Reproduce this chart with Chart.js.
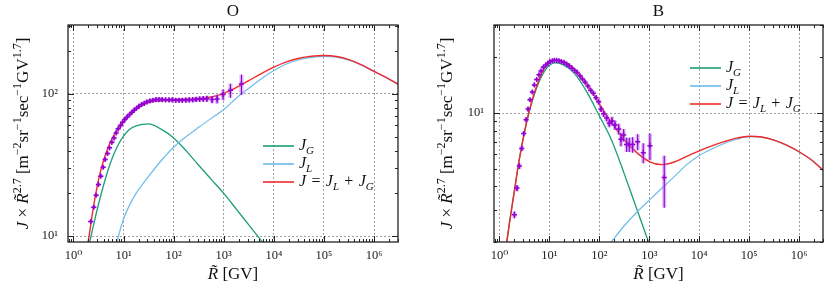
<!DOCTYPE html>
<html>
<head>
<meta charset="utf-8">
<script src="https://cdn.jsdelivr.net/npm/chart.js@4.4.0/dist/chart.umd.min.js"></script>
<style>
  html, body { margin: 0; padding: 0; background: #fff; }
  #wrap { width: 830px; height: 290px; position: relative; }
  .panel { position: absolute; top: 0; width: 415px; height: 290px; }
</style>
</head>
<body>
<div id="wrap">
  <div class="panel" style="left:0"><canvas id="chart-o" width="415" height="290"></canvas></div>
  <div class="panel" style="left:415px"><canvas id="chart-b" width="415" height="290"></canvas></div>
</div>
<script>
// ---- ticks ----
const xTickValues = [1, 10, 100, 1e3, 1e4, 1e5, 1e6]
const xTickLabels = ['10⁰', '10¹', '10²', '10³', '10⁴', '10⁵', '10⁶']
const oYTickValues = [10, 100]
const oYTickLabels = ['10¹', '10²']
const bYTickValues = [10]
const bYTickLabels = ['10¹']

// ---- O : measured points ----
const oDataR = [2.22, 2.55, 2.84, 3.16, 3.52, 3.92, 4.3, 4.79, 5.25, 5.85,
  6.5, 7.13, 7.8, 8.7, 9.55, 10.6, 11.8, 13.2, 14.7, 16.3,
  18.2, 20.3, 22.9, 25.9, 29.3, 33.6, 38.6, 44.4, 51, 59,
  69, 81, 94, 110, 128, 149, 175, 205, 240, 280,
  330, 390, 460, 585, 736, 970, 1360, 2256]
const oDataJ = [12.7, 16.0, 19.4, 23.1, 26.4, 30.5, 34.6, 38.1, 41.8, 45.7,
  49, 53.2, 56.8, 59.9, 63.1, 66, 68.9, 71.6, 74.3, 76.8,
  79.3, 81.8, 84.1, 85.9, 87.9, 89.3, 90.2, 91.2, 91.2, 91.2,
  90.8, 90.8, 90.8, 90.2, 90.2, 90.2, 90.5, 90.8, 91, 91.5,
  92, 92.2, 92.5, 91.2, 92.2, 98.9, 106, 117.5]
const oDataErr = [0.3, 0.4, 0.5, 0.6, 0.7, 0.8, 0.9, 1.0, 1.1, 1.2,
  1.3, 1.4, 1.5, 1.6, 1.7, 1.8, 1.9, 2.0, 2.1, 2.2,
  2.3, 2.4, 2.5, 2.6, 2.7, 2.8, 2.9, 3.0, 3.0, 3.0,
  3.0, 3.0, 3.1, 3.2, 3.3, 3.4, 3.5, 3.6, 3.7, 3.8,
  4.0, 4.3, 4.7, 5.2, 6.5, 8.5, 12, 19]

// ---- O : model curves ----
const oJR = [1.905, 2.0, 2.51, 3.16, 3.98, 5.01, 6.31, 7.94, 10, 12.6,
  17.8, 31.6, 56.2, 100, 178, 316, 562, 1000, 1780, 3160,
  5620, 1e4, 1.78e4, 3.16e4, 5.62e4, 1e5, 1.78e5, 3.16e5, 5.62e5, 1e6,
  1.78e6, 3.16e6]
const oJ = [8.5, 9.44, 16.0, 24.8, 33.9, 42.7, 50.7, 57.5, 63.8, 69.7,
  78.5, 87, 89.6, 91.2, 91.6, 92.5, 95.1, 101, 111, 124,
  139, 154, 168, 178, 184, 186, 183, 174, 160, 144,
  130, 116]
const oJLR = [7.08, 7.94, 10, 12.6, 17.8, 31.6, 56.2, 100, 178, 316,
  562, 1000, 1780, 3160, 5620, 1e4, 1.78e4, 3.16e4, 5.62e4, 1e5,
  1.78e5, 3.16e5, 5.62e5, 1e6, 1.78e6, 3.16e6]
const oJL = [8.3, 10.0, 13.2, 16.0, 20.0, 26.3, 33.9, 42.2, 50.1, 58.2,
  67.3, 77.6, 93.3, 109.6, 127.9, 146.2, 162.2, 173.8, 180.7, 183.7,
  181.6, 172.6, 159.2, 143.2, 129.4, 115.3]
const oJGR = [1.995, 2.51, 3.16, 3.98, 5.01, 6.31, 7.94, 10, 12.6, 17.8,
  31.6, 56.2, 100, 178, 316, 562, 1000, 1780, 3160, 5620, 1e4]
const oJG = [8.26, 11.9, 16.7, 22.7, 29.8, 37.2, 44.3, 50.5, 55.6, 59.5,
  61.5, 56.5, 49.0, 39.8, 31.5, 25.1, 20.0, 15.5, 12.0, 9.3, 7.2]

// ---- B : measured points ----
const bDataR = [2.0, 2.25, 2.51, 2.8, 3.07, 3.42, 3.74, 4.1, 4.57, 5.0,
  5.58, 6.2, 6.8, 7.6, 8.45, 9.3, 10.3, 11.5, 12.6, 14.0,
  15.6, 17.4, 19.6, 22.2, 25, 28.4, 32, 36, 41, 46,
  52, 59, 67, 76, 86, 97, 108, 122, 140, 158,
  179, 206, 244, 271, 307, 352, 398, 464, 585, 759,
  1030, 1995]
const bDataJ = [2.81, 3.92, 5.16, 6.43, 7.74, 9.2, 10.5, 11.8, 13.0, 14.2,
  15.2, 16.1, 16.9, 17.7, 18.2, 18.6, 19.0, 19.2, 19.3, 19.3,
  19.2, 19.0, 18.8, 18.4, 18.0, 17.5, 17.0, 16.6, 15.9, 15.3,
  14.7, 14.0, 13.3, 12.8, 12.1, 11.5, 10.5, 9.9, 9.4, 8.8,
  9.06, 8.6, 8.2, 7.2, 7.6, 6.75, 6.75, 6.75, 6.98, 6.1,
  6.65, 4.47]
const bDataErr = [0.12, 0.15, 0.18, 0.2, 0.2, 0.22, 0.24, 0.26, 0.28, 0.3,
  0.3, 0.3, 0.32, 0.33, 0.34, 0.35, 0.36, 0.36, 0.37, 0.37,
  0.37, 0.37, 0.37, 0.36, 0.36, 0.36, 0.36, 0.35, 0.35, 0.35,
  0.35, 0.35, 0.34, 0.34, 0.34, 0.35, 0.36, 0.38, 0.4, 0.42,
  0.5, 0.5, 0.55, 0.6, 0.6, 0.6, 0.6, 0.65, 0.7, 0.75,
  1.1, 1.4]

// ---- B : model curves ----
const bJR = [1.26, 1.58, 2.0, 2.51, 3.16, 3.98, 5.01, 6.31, 7.94, 10,
  12.6, 17.8, 31.6, 56.2, 100, 178, 316, 562, 1000, 1780,
  3160, 5620, 1e4, 1.78e4, 3.16e4, 5.62e4, 1e5, 1.78e5, 3.16e5, 5.62e5,
  1e6, 1.78e6, 3.16e6]
const bJ = [1.62, 2.51, 3.80, 5.62, 7.85, 10.35, 12.88, 15.31, 17.38, 18.71,
  19.36, 19.19, 17.38, 14.29, 11.22, 8.81, 7.16, 6.10, 5.46, 5.25,
  5.43, 5.82, 6.24, 6.64, 7.00, 7.31, 7.48, 7.41, 7.13, 6.70,
  6.17, 5.56, 4.84]
const bJGR = [1.26, 1.58, 2.0, 2.51, 3.16, 3.98, 5.01, 6.31, 7.94, 10,
  12.6, 17.8, 31.6, 56.2, 100, 178, 316, 562, 1000, 1260]
const bJG = [1.62, 2.51, 3.80, 5.62, 7.82, 10.23, 12.59, 14.86, 16.79, 18.11,
  18.71, 18.41, 16.41, 13.03, 9.66, 7.08, 4.68, 3.02, 1.95, 1.64]
const bJLR = [100, 178, 316, 562, 1000, 1780, 3160, 5620, 1e4, 1.78e4,
  3.16e4, 5.62e4, 1e5, 1.78e5, 3.16e5, 5.62e5, 1e6, 1.78e6, 3.16e6]
const bJL = [1.66, 2.02, 2.45, 2.90, 3.37, 3.91, 4.52, 5.25, 5.89, 6.38,
  6.84, 7.21, 7.45, 7.40, 7.11, 6.68, 6.15, 5.55, 4.83]

const SERIF = "'Liberation Serif', 'DejaVu Serif', serif"
const colGreen = '#1a9e78'
const colBlue = '#6cbcec'
const colRed = '#f02a2a'
const colData = '#9400d3'

function pts(xs, ys) {
  return xs.map((x, i) => ({ x: x, y: ys[i] }))
}

// rich text: parts = [[text, style]], style '' | 'i' | 'sup' | 'isub'
function fontFor(style, size) {
  let small = style.indexOf('sup') >= 0 || style.indexOf('sub') >= 0
  let it = style.indexOf('i') === 0
  return (it ? 'italic ' : '') + (small ? Math.round(size * 0.7) : size) + 'px ' + SERIF
}

function drawRich(ctx, parts, x, y, size, align) {
  let w = 0
  parts.forEach(p => { ctx.font = fontFor(p[1], size); w += ctx.measureText(p[0]).width })
  let cx = align === 'center' ? x - w / 2 : x
  ctx.textAlign = 'left'
  ctx.textBaseline = 'alphabetic'
  parts.forEach(p => {
    ctx.font = fontFor(p[1], size)
    let dy = p[1].indexOf('sup') >= 0 ? -size * 0.42 : (p[1].indexOf('sub') >= 0 ? size * 0.25 : 0)
    ctx.fillText(p[0], cx, y + dy)
    cx += ctx.measureText(p[0]).width
  })
}

const yTitleParts = [['J', 'i'], [' × ', ''], ['R̃', 'i'], ['2.7', 'sup'], [' [m', ''], ['−2', 'sup'],
  ['sr', ''], ['−1', 'sup'], ['sec', ''], ['−1', 'sup'], ['GV', ''], ['1.7', 'sup'], [']', '']]
const xTitleParts = [['R̃', 'i'], [' [GV]', '']]
const legendParts = [
  [['J', 'i'], ['G', 'isub']],
  [['J', 'i'], ['L', 'isub']],
  [['J', 'i'], ['\u200a = \u200a', ''], ['J', 'i'], ['L', 'isub'], ['\u200a + \u200a', ''], ['J', 'i'], ['G', 'isub']]
]
const legendColors = [colGreen, colBlue, colRed]

// frame, inward ticks, titles, legend, error bars
const decor = {
  id: 'decor',
  beforeDatasetDraw(chart, args, opts) {
    if (args.index !== 0) return
    let ctx = chart.ctx, xs = chart.scales.x, ys = chart.scales.y, a = chart.chartArea
    ctx.save()
    ctx.beginPath()
    ctx.rect(a.left, a.top, a.right - a.left, a.bottom - a.top)
    ctx.clip()
    opts.r.forEach((r, i) => {
      let px = xs.getPixelForValue(r)
      let y1 = ys.getPixelForValue(opts.v[i] + opts.e[i])
      let y2 = ys.getPixelForValue(opts.v[i] - opts.e[i])
      ctx.fillStyle = 'rgba(175, 95, 235, 0.45)'
      ctx.fillRect(px - 2, y1, 4, y2 - y1)
      ctx.strokeStyle = colData
      ctx.lineWidth = 1.1
      ctx.beginPath()
      ctx.moveTo(px, y1)
      ctx.lineTo(px, y2)
      ctx.stroke()
    })
    ctx.restore()
  },
  afterDraw(chart, args, opts) {
    let ctx = chart.ctx, xs = chart.scales.x, ys = chart.scales.y, a = chart.chartArea
    ctx.save()
    ctx.strokeStyle = '#222'
    ctx.lineWidth = 1
    // minor / major ticks, all four sides, pointing inwards
    ctx.beginPath()
    for (let d = -1; d <= 7; d++) {
      for (let k = 1; k <= 9; k++) {
        let v = k * Math.pow(10, d)
        let len = k === 1 ? 6 : 3
        if (v >= xs.min && v <= xs.max) {
          let px = Math.round(xs.getPixelForValue(v)) + 0.5
          ctx.moveTo(px, a.bottom); ctx.lineTo(px, a.bottom - len)
          ctx.moveTo(px, a.top); ctx.lineTo(px, a.top + len)
        }
        if (v >= ys.min && v <= ys.max) {
          let py = Math.round(ys.getPixelForValue(v)) + 0.5
          ctx.moveTo(a.left, py); ctx.lineTo(a.left + len, py)
          ctx.moveTo(a.right, py); ctx.lineTo(a.right - len, py)
        }
      }
    }
    ctx.stroke()
    ctx.lineWidth = 1.3
    ctx.strokeRect(a.left, a.top, a.right - a.left, a.bottom - a.top)

    ctx.fillStyle = '#111'
    ctx.font = '17px ' + SERIF
    ctx.textAlign = 'center'
    ctx.textBaseline = 'alphabetic'
    ctx.fillText(opts.title, (a.left + a.right) / 2, 16)

    drawRich(ctx, xTitleParts, (a.left + a.right) / 2, 279, 17, 'center')

    ctx.save()
    ctx.translate(opts.yTitleX, (a.top + a.bottom) / 2)
    ctx.rotate(-Math.PI / 2)
    drawRich(ctx, yTitleParts, 0, 0, 17, 'center')
    ctx.restore()

    legendParts.forEach((parts, i) => {
      let ly = opts.legY + i * 18
      ctx.strokeStyle = legendColors[i]
      ctx.lineWidth = 1.6
      ctx.beginPath()
      ctx.moveTo(opts.legX, ly)
      ctx.lineTo(opts.legX + 31, ly)
      ctx.stroke()
      ctx.fillStyle = '#111'
      drawRich(ctx, parts, opts.legX + 36, ly + 4, 16, 'left')
    })
    ctx.restore()
  }
}

function makeChart(id, cfg) {
  return new Chart(document.getElementById(id), {
    type: 'line',
    data: {
      datasets: [
        {
          data: pts(cfg.dataR, cfg.dataJ),
          showLine: false,
          pointStyle: 'cross',
          pointRadius: 2.6,
          pointBorderWidth: 1.5,
          pointBorderColor: colData,
          pointBackgroundColor: colData
        },
        { data: pts(cfg.jR, cfg.j), borderColor: colRed, borderWidth: 1.4, pointRadius: 0, cubicInterpolationMode: 'monotone' },
        { data: pts(cfg.jlR, cfg.jl), borderColor: colBlue, borderWidth: 1.2, pointRadius: 0, cubicInterpolationMode: 'monotone' },
        { data: pts(cfg.jgR, cfg.jg), borderColor: colGreen, borderWidth: 1.3, pointRadius: 0, cubicInterpolationMode: 'monotone' }
      ]
    },
    options: {
      responsive: false,
      animation: false,
      layout: { padding: { top: 25, right: cfg.padRight, bottom: 0, left: 0 } },
      plugins: {
        legend: { display: false },
        tooltip: { enabled: false },
        decor: {
          title: cfg.title, yTitleX: cfg.yTitleX, legX: cfg.legX, legY: cfg.legY,
          r: cfg.dataR, v: cfg.dataJ, e: cfg.dataErr
        }
      },
      scales: {
        x: {
          type: 'logarithmic',
          min: 0.78, max: 3.0e6,
          afterBuildTicks: s => { s.ticks = xTickValues.map(v => ({ value: v })) },
          afterFit: s => { s.height = 48 },
          ticks: {
            autoSkip: false, maxRotation: 0, padding: 6, color: '#222',
            font: { family: SERIF, size: 12.5 },
            callback: (v, i) => xTickLabels[i]
          },
          grid: { color: '#8a8a8a', lineWidth: 0.8, drawTicks: false },
          border: { display: false, dash: [2, 2] }
        },
        y: {
          type: 'logarithmic',
          min: cfg.yMin, max: cfg.yMax,
          afterBuildTicks: s => { s.ticks = cfg.yTicks.map(v => ({ value: v })) },
          afterFit: s => { s.width = cfg.yWidth },
          ticks: {
            autoSkip: false, padding: 10, color: '#222',
            font: { family: SERIF, size: 12.5 },
            callback: (v, i) => cfg.yLabels[i]
          },
          grid: { color: '#8a8a8a', lineWidth: 0.8, drawTicks: false },
          border: { display: false, dash: [2, 2] }
        }
      }
    },
    plugins: [decor]
  })
}

makeChart('chart-o', {
  title: 'O',
  dataR: oDataR, dataJ: oDataJ, dataErr: oDataErr,
  jR: oJR, j: oJ, jlR: oJLR, jl: oJL, jgR: oJGR, jg: oJG,
  yMin: 9.1, yMax: 305, yTicks: oYTickValues, yLabels: oYTickLabels,
  yWidth: 68, padRight: 17, yTitleX: 28, legX: 263, legY: 146
})

makeChart('chart-b', {
  title: 'B',
  dataR: bDataR, dataJ: bDataJ, dataErr: bDataErr,
  jR: bJR, j: bJ, jlR: bJLR, jl: bJL, jgR: bJGR, jg: bJG,
  yMin: 2.0, yMax: 30, yTicks: bYTickValues, yLabels: bYTickLabels,
  yWidth: 79, padRight: 7, yTitleX: 37, legX: 275, legY: 68
})
</script>
</body>
</html>
